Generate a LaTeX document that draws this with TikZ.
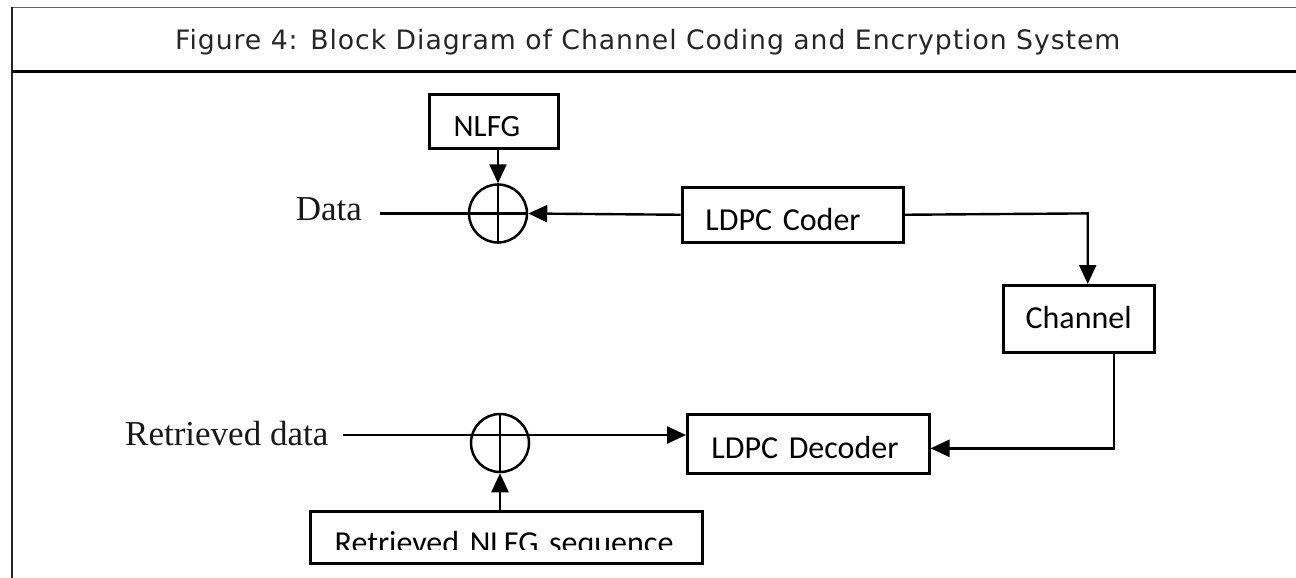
\documentclass[tikz,border=0pt]{standalone}
\usepackage{fontspec}
\setmainfont{Liberation Serif}
\newfontfamily\boxfont{Carlito}
\newfontfamily\titlefont[LetterSpace=3.5]{DejaVu Sans}
\usetikzlibrary{arrows.meta}
\begin{document}
\begin{tikzpicture}[x=1pt,y=-1pt,
  blk/.style={draw, line width=2.8pt, anchor=north west, inner ysep=0pt, align=left,
    font=\boxfont\fontsize{32}{36}\selectfont, text depth=0pt},
  xo/.style={draw, circle, line width=2.5pt, minimum size=58pt, inner sep=0pt},
  wire/.style={line width=2.4pt},
  arr/.style={wire, -{Triangle[length=19pt,width=17pt]}},
  lbl/.style={font=\fontsize{35}{40}\selectfont, inner sep=0pt, anchor=base west, text=black!90}
]
\useasboundingbox (0,0) rectangle (1296,578);
% frame
\draw[line width=1.5pt, black!60] (1296,7.5) -- (12.3,7.5);
\draw[line width=1.8pt, black!85] (12.3,7.5) -- (12.3,578);
\draw[line width=3pt] (12.3,71.7) -- (1296,71.7);
\node[font=\titlefont\fontsize{26.7}{32}\selectfont, anchor=base west, inner sep=0pt, text=black!85] (title) at (175,49.3)
  {Figure 4: Block Diagram of Channel Coding and Encryption System};

% blocks
\node[blk, font=\boxfont\fontsize{31}{36}\selectfont, minimum height=53.4pt, inner xsep=24.6pt, text width=79.8pt, text height=30pt] (nlfg) at (427.7,93.3) {NLFG};
\node[blk, minimum height=55.3pt, inner xsep=23.3pt, text width=174.7pt, text height=31.2pt] (coder) at (680.7,185.7) {LDPC Coder};
\node[blk, minimum height=67pt, inner xsep=22.5pt, text width=106.3pt, text height=18.4pt] (chan) at (1001.7,284) {Channel};
\node[blk, minimum height=59pt, inner xsep=24pt, text width=193.7pt, text height=27.8pt] (dec) at (686,413.3) {LDPC Decoder};
\node[blk, minimum height=51.7pt, inner xsep=24.3pt, text width=343.4pt, text height=33.2pt] (seq) at (309,510) {Retrieved NLFG sequence};
\fill[white] (311.5,550.3) rectangle (698.5,559);

% xor circles
\node[xo] (xa) at (498,213.5) {};
\node[xo] (xb) at (500,443) {};

% labels
\node[lbl] (data) at (295.7,220) {Data};
\node[lbl] (rdata) at (125,445) {Retrieved data};

% connectors
\coordinate (din) at (380,213.5);
\draw[wire] (din) -- (xa.east);
\draw[wire] (xa.north) -- (xa.south);
\draw[arr] (nlfg.south -| xa.north) -- (xa.north);
\draw[arr] (coder.west) -- (xa.east);
\coordinate (k1) at (1087.7,213.4);
\draw[arr] (coder.east) -- (k1) -- (k1 |- chan.north);
\coordinate (k2) at (1114,448.3);
\draw[arr] (k2 |- chan.south) -- (k2) -- (k2 -| dec.east);
\coordinate (rin) at (343,435);
\draw[arr] (rin) -- (rin -| dec.west);
\draw[wire] (xb.north) -- (xb.south);
\draw[arr] (seq.north -| xb.south) -- (xb.south);
\end{tikzpicture}
\end{document}
